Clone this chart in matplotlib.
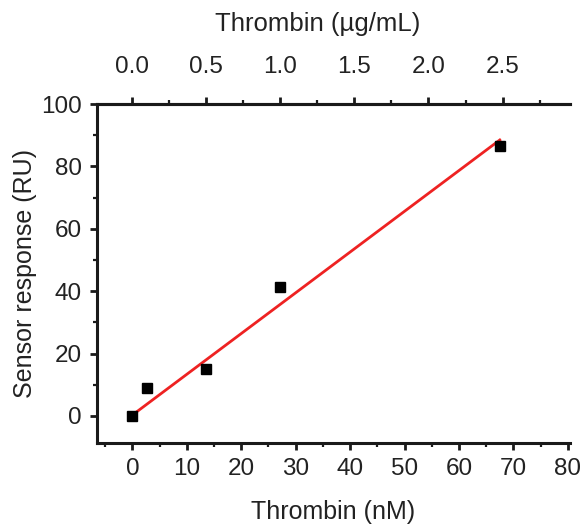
import matplotlib
matplotlib.use("Agg")
import matplotlib.pyplot as plt
from matplotlib.ticker import MultipleLocator, FixedLocator, FormatStrFormatter

# data
conc_nM = [0, 2.7, 13.5, 27.2, 67.5]
response_RU = [0, 9, 15, 41.3, 86.5]
fit_x = [0, 67.5]
fit_y = [0.3, 88.5]
top_ticks = [0.0, 0.5, 1.0, 1.5, 2.0, 2.5]

NM_PER_UG = 27.2  # nM per ug/mL thrombin

plt.rcParams['font.family'] = ['Liberation Sans', 'DejaVu Sans']
txt = '#222222'
dark = '#1a1a1a'

fig = plt.figure(figsize=(5.82, 5.25), dpi=100)
ax = fig.add_axes([0.1667, 0.156, 0.8127, 0.6457])

ax.plot(fit_x, fit_y, color='#ee2222', lw=2, zorder=2)
ax.plot(conc_nM, response_RU, 's', color='black', ms=6.8, zorder=3)

ax.set_xlim(-6.5, 80.4)
ax.set_ylim(-8.7, 100)
ax.xaxis.set_major_locator(MultipleLocator(10))
ax.xaxis.set_minor_locator(MultipleLocator(5))
ax.yaxis.set_major_locator(MultipleLocator(20))
ax.yaxis.set_minor_locator(MultipleLocator(10))

ax.spines['right'].set_visible(False)
for s in ['left', 'top', 'bottom']:
    ax.spines[s].set_linewidth(2.2)
    ax.spines[s].set_color(dark)

ax.tick_params(which='major', direction='out', length=5, width=2, labelsize=17.5,
               labelcolor=txt, color=dark, pad=6)
ax.tick_params(which='minor', direction='out', length=3, width=1.6, color=dark)

ax.set_xlabel('Thrombin (nM)', fontsize=18, color=txt, labelpad=14)
ax.set_ylabel('Sensor response (RU)', fontsize=18, color=txt, labelpad=3)

top = ax.secondary_xaxis('top', functions=(lambda x: x / NM_PER_UG, lambda u: u * NM_PER_UG))
top.xaxis.set_major_locator(FixedLocator(top_ticks))
top.xaxis.set_minor_locator(MultipleLocator(0.25))
top.xaxis.set_major_formatter(FormatStrFormatter('%.1f'))
top.spines['top'].set_linewidth(2.2)
top.spines['top'].set_color(dark)
top.tick_params(which='major', direction='out', length=5, width=2, labelsize=17.5,
                labelcolor=txt, color=dark, pad=14)
top.tick_params(which='minor', direction='out', length=3, width=1.6, color=dark)

# top axis title sits a little left of centre in the reference
fig.text(318 / 582, 1 - 24 / 525, 'Thrombin (\u00b5g/mL)', fontsize=18.5, color=txt,
         ha='center', va='center')

fig.savefig('out.png', dpi=100)
